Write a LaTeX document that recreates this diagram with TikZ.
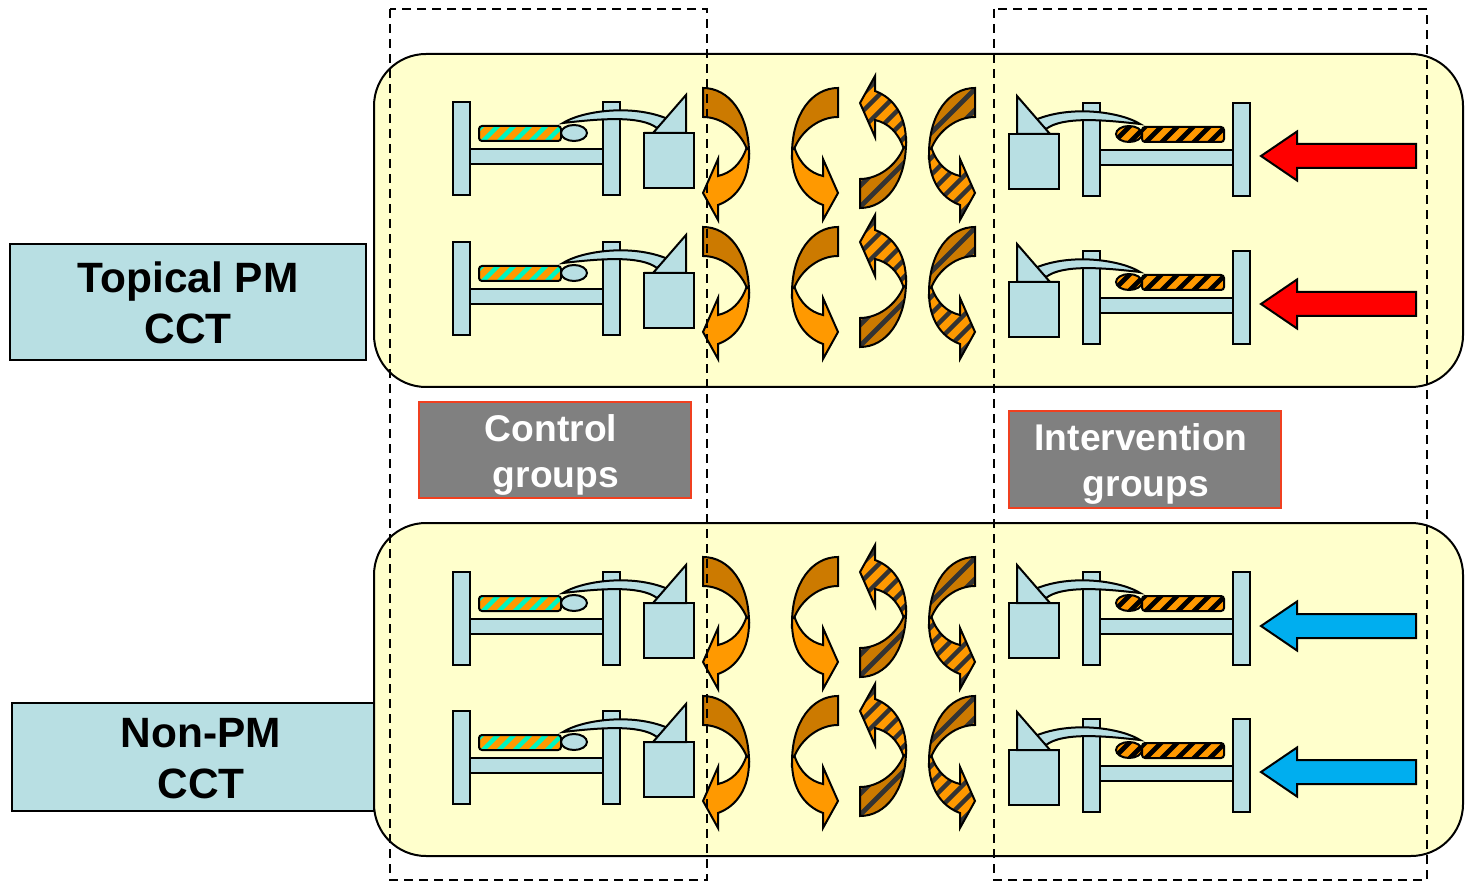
\documentclass[tikz,border=0pt]{standalone}
\usepackage{fontspec}
\setmainfont{Liberation Sans}
\definecolor{panel}{HTML}{FFFFCC}
\definecolor{bedc}{HTML}{B8DFE3}
\definecolor{org}{HTML}{FF9900}
\definecolor{brn}{HTML}{CC7A00}
\definecolor{cyn}{HTML}{00F5C0}
\definecolor{drk}{HTML}{333333}
\definecolor{gbox}{HTML}{808080}
\definecolor{redb}{HTML}{F04020}
\definecolor{blu}{HTML}{00AEEF}
\tikzset{
  ln/.style={draw=black,line width=1pt,line join=miter},
  bedpart/.style={ln,fill=bedc},
  labelbox/.style={draw=black,line width=.8pt,fill=bedc},
  labeltext/.style={font=\fontsize{21.2}{25.5}\selectfont\bfseries,align=center,text=black},
  greybox/.style={draw=redb,line width=.8pt,fill=gbox},
  greytext/.style={font=\fontsize{18.6}{23}\selectfont\bfseries,align=center,text=white},
  panelbox/.style={draw=black,line width=1pt,fill=panel,rounded corners=26pt},
  dashbox/.style={draw=black,line width=1pt,dash pattern=on 4.5pt off 3pt},
  bigarrow/.style={draw=black,line width=1pt,line join=miter}
}
% #1 path, #2 fill, #3 stripe colour, #4 sign, #5 step, #6 width
\newcommand{\stripedpath}[6]{%
  \fill[#2] #1;
  \begin{scope}
    \clip #1;
    \foreach \n in {0,...,120} {
      \pgfmathsetmacro{\k}{-400+\n*#5}
      \pgfmathsetmacro{\ka}{\k-(#4)*200}
      \pgfmathsetmacro{\kb}{\k+(#4)*200}
      \draw[#3,line width=#6] (\ka,200) -- (\kb,-200);
    }
  \end{scope}
  \draw[ln] #1;}
% arrow in local coordinates, opening to the left, head at the bottom
\def\bandpath{(0,0) .. controls (26,0) and (46,26) .. (46,66) -- (43.5,60) .. controls (36,42) and (18,29) .. (0,29) -- cycle}
\def\headpath{(43.5,60) -- (46,62) -- (46,66) .. controls (46,92) and (34,110) .. (15,117) -- (15,132) -- (0,105) -- (15,71) -- (15,88) .. controls (28,85) and (38,76) .. (43.5,60) -- cycle}
\newcommand{\plaincurve}{%
  \draw[ln,fill=brn] \bandpath;
  \draw[ln,fill=org] \headpath;}
\newcommand{\stripecurve}[1]{%
  \stripedpath{\bandpath}{brn}{drk}{#1}{21}{2.4pt}
  \stripedpath{\headpath}{org}{drk}{#1}{17}{2.2pt}}
\newcommand{\arrowset}[1]{%
  \begin{scope}[shift={(703,88+#1)}]\plaincurve\end{scope}
  \begin{scope}[shift={(838,88+#1)},xscale=-1]\plaincurve\end{scope}
  \begin{scope}[shift={(860,208+#1)},yscale=-1]\stripecurve{-1}\end{scope}
  \begin{scope}[shift={(975,88+#1)},xscale=-1]\stripecurve{-1}\end{scope}}
% bed frame drawn for left orientation
\newcommand{\bedframe}{%
  \draw[bedpart] (470,149) rectangle (603,164);
  \draw[bedpart] (453,102) rectangle (470,195);
  \draw[bedpart] (603,102) rectangle (620,195);
  \draw[bedpart] (563,123) .. controls (580,112) and (630,103) .. (668,119)
     -- (657,128) .. controls (640,115) and (598,119) .. cycle;
  \draw[bedpart] (644,133) rectangle (694,188);
  \draw[bedpart] (644,133) -- (653,133) -- (686,95) -- (686,133) -- cycle;
}
\def\bodyL{[rounded corners=1.5pt] (479,126) rectangle (561,141)}
\def\headL{(574,133) ellipse [x radius=13,y radius=8]}
\newcommand{\bedLeft}[1]{%
  \begin{scope}[shift={(0,#1)}]
    \bedframe
    \stripedpath{\bodyL}{org}{cyn}{1}{16}{2.2pt}
    \draw[bedpart] \headL;
  \end{scope}}
\newcommand{\bedRight}[1]{%
  \begin{scope}[shift={(1703,1+#1)},xscale=-1]
    \bedframe
    \stripedpath{\bodyL}{org}{black}{-1}{16}{2.4pt}
    \stripedpath{\headL}{org}{black}{-1}{16}{2.4pt}
  \end{scope}}
\newcommand{\bigarrow}[2]{% centre y, colour
  \draw[bigarrow,fill=#2] (1261,#1) -- (1297,#1-24.5) -- (1297,#1-12) -- (1416,#1-12)
    -- (1416,#1+12) -- (1297,#1+12) -- (1297,#1+24.5) -- cycle;}
\begin{document}
\begin{tikzpicture}[x=0.5pt,y=-0.5pt]
\useasboundingbox (0,0) rectangle (1470,881);
\fill[white] (0,0) rectangle (1470,881);
\node[labelbox,minimum width=178pt,minimum height=58pt,inner sep=0pt] (topbox) at (188,302) {};
\node[labelbox,minimum width=181pt,minimum height=54pt,inner sep=0pt] (nonbox) at (193,757) {};
\node[labeltext] (toptext) at (188,303) {Topical PM\\CCT};
\node[labeltext] (nontext) at (201,759) {Non-PM\\CCT};
\draw[panelbox] (374,54) rectangle (1463,387);
\draw[panelbox] (374,523) rectangle (1463,856);
\node[greybox,minimum width=136pt,minimum height=48pt,inner sep=0pt] (ctrlbox) at (555,450) {};
\node[greybox,minimum width=136pt,minimum height=48.5pt,inner sep=0pt] (intbox) at (1145,459.5) {};
\node[greytext] (ctrltext) at (556,455) {Control\hspace*{5pt}\\groups};
\node[greytext] (inttext) at (1146,464) {Intervention\hspace*{5pt}\\groups};
\bedLeft{0}\bedLeft{140}\bedLeft{470}\bedLeft{609}
\bedRight{0}\bedRight{148}\bedRight{469}\bedRight{616}
\arrowset{0}\arrowset{139}\arrowset{469}\arrowset{608}
\bigarrow{156}{red}\bigarrow{304}{red}\bigarrow{626}{blu}\bigarrow{772}{blu}
\draw[dashbox] (390,9) rectangle (707,880);
\draw[dashbox] (994,9) rectangle (1427,880);
\end{tikzpicture}
\end{document}
